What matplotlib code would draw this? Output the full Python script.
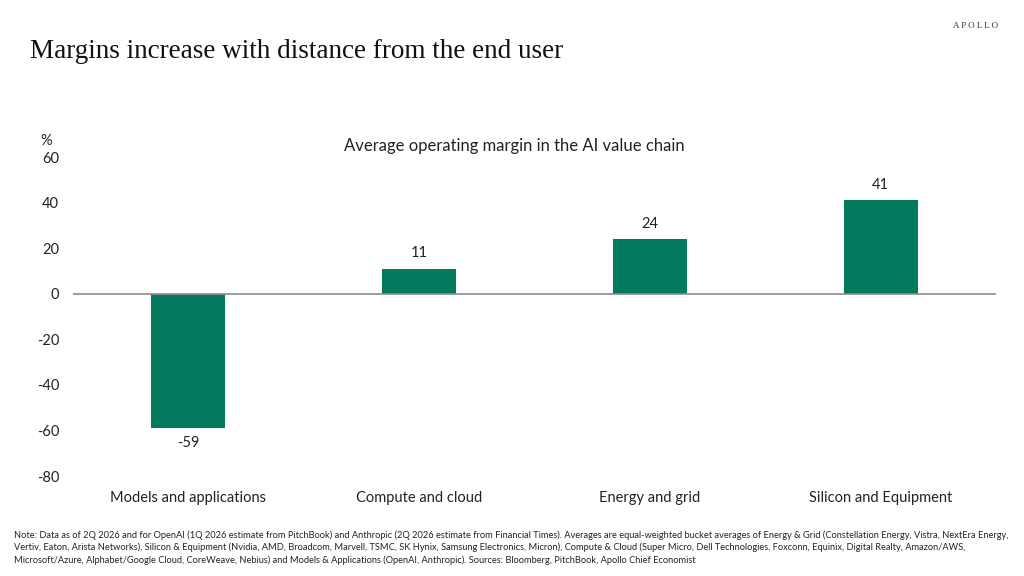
import matplotlib.pyplot as plt

plt.rcParams['font.family'] = ['Lato', 'DejaVu Sans']

categories = ['Models and applications', 'Compute and cloud', 'Energy and grid', 'Silicon and Equipment']
margins = [-59, 11, 24, 41]
yticks = [60, 40, 20, 0, -20, -40, -60, -80]

bar_color = '#037A5F'
text_color = '#222222'

note = ("Note: Data as of 2Q 2026 and for OpenAI (1Q 2026 estimate from PitchBook) and Anthropic (2Q 2026 estimate from Financial Times). "
        "Averages are equal-weighted bucket averages of Energy & Grid (Constellation Energy, Vistra, NextEra Energy,\n"
        "Vertiv, Eaton, Arista Networks), Silicon & Equipment (Nvidia, AMD, Broadcom, Marvell, TSMC, SK Hynix, Samsung Electronics, Micron), "
        "Compute & Cloud (Super Micro, Dell Technologies, Foxconn, Equinix, Digital Realty, Amazon/AWS,\n"
        "Microsoft/Azure, Alphabet/Google Cloud, CoreWeave, Nebius) and Models & Applications (OpenAI, Anthropic). "
        "Sources: Bloomberg, PitchBook, Apollo Chief Economist")

fig = plt.figure(figsize=(10.24, 5.76), dpi=100, facecolor='white')
ax = fig.add_axes([0.0713, 0.1736, 0.9014, 0.5538])

x = range(len(categories))
ax.bar(x, margins, width=0.32, color=bar_color, zorder=2)
ax.axhline(0, color='#8c8c8c', linewidth=1.2, zorder=3)

for xi, v in zip(x, margins):
    if v >= 0:
        ax.annotate(str(v), (xi, v), xytext=(0, 6), textcoords='offset points',
                    ha='center', va='bottom', fontsize=10.5, color=text_color)
    else:
        ax.annotate(str(v), (xi, v), xytext=(0, -6), textcoords='offset points',
                    ha='center', va='top', fontsize=10.5, color=text_color)

ax.set_xlim(-0.5, 3.5)
ax.set_ylim(-80, 60)
ax.set_yticks(yticks)
ax.set_yticklabels([str(t) for t in yticks], fontsize=10.5, color=text_color)
ax.set_xticks(list(x))
ax.set_xticklabels(categories, fontsize=10.5, color=text_color)
ax.tick_params(axis='both', length=0)
ax.tick_params(axis='y', pad=10)
ax.tick_params(axis='x', pad=11)
for s in ax.spines.values():
    s.set_visible(False)

fig.text(514 / 1024, 1 - 146 / 576, 'Average operating margin in the AI value chain',
         ha='center', va='center', fontsize=12, color=text_color)
fig.text(40 / 1024, 1 - 141 / 576, '%', ha='left', va='center', fontsize=10.5, color=text_color)

fig.text(30 / 1024, 1 - 51 / 576, 'Margins increase with distance from the end user',
         family='Liberation Serif', fontsize=19.5, ha='left', va='center', color='#111111')
fig.text(998 / 1024, 1 - 26 / 576, 'A P O L L O', family='Liberation Serif', fontsize=6.5,
         ha='right', va='center', color='#333333')

fig.text(14 / 1024, 1 - 530 / 576, note, ha='left', va='top', fontsize=6.7,
         color=text_color, linespacing=1.45)

fig.savefig('out.png', dpi=100, facecolor='white')
